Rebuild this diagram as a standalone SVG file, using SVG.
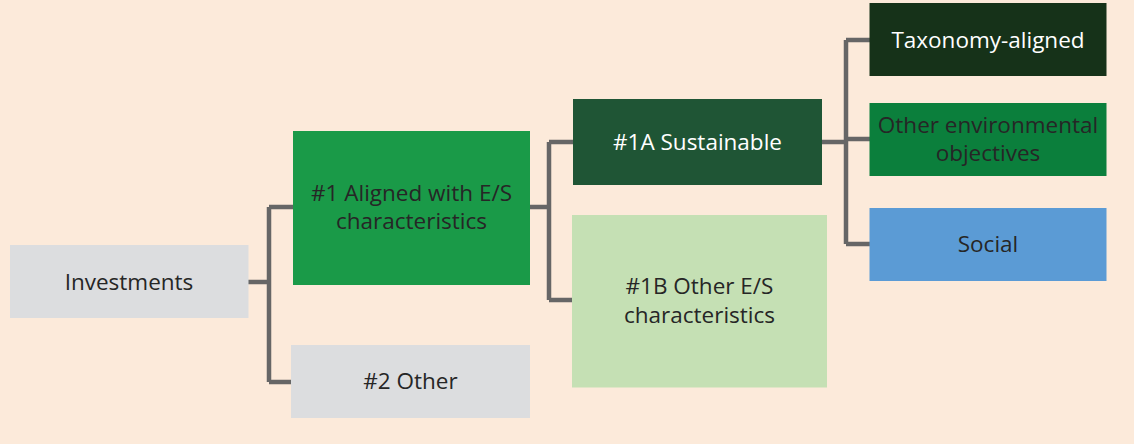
<svg xmlns="http://www.w3.org/2000/svg" width="1134" height="444" viewBox="0 0 1134 444">
<style>
text{font-family:"Open Sans","Noto Sans","Liberation Sans",sans-serif;font-size:22.5px;text-anchor:middle;fill:#262626}
.w{fill:#ffffff}
.c{fill:none;stroke:#666666;stroke-width:4.5;stroke-linejoin:miter}
</style>
<rect width="1134" height="444" fill="#FCEADA"/>
<g id="connectors">
<path class="c" d="M248,282 H269 M269,207 V382 M269,207 H293 M269,382 H291"/>
<path class="c" d="M530,207 H549 M549,142 V300 M549,142 H573 M549,300 H572"/>
<path class="c" d="M822,142 H846 M846,40 V244 M846,40 H870 M846,139 H870 M846,244 H870"/>
</g>
<g id="investments"><rect x="10" y="245" width="238.5" height="73" fill="#DCDDDF"/><text x="129" y="289.5">Investments</text></g>
<g id="aligned"><rect x="293" y="131" width="237" height="154" fill="#1A9A48"/><text x="411.5" y="201">#1 Aligned with E/S</text><text x="411.5" y="228.7">characteristics</text></g>
<g id="other2"><rect x="291" y="345" width="239" height="73" fill="#DCDDDF"/><text x="410.5" y="389">#2 Other</text></g>
<g id="sustainable"><rect x="573" y="99" width="249" height="86" fill="#1F5535"/><text class="w" x="697.5" y="149.5">#1A Sustainable</text></g>
<g id="other-es"><rect x="572" y="215" width="255" height="172.5" fill="#C5E0B4"/><text x="699.5" y="293.5">#1B Other E/S</text><text x="699.5" y="323">characteristics</text></g>
<g id="taxonomy"><rect x="869.5" y="3" width="237" height="73" fill="#163219"/><text class="w" x="988" y="47.5">Taxonomy-aligned</text></g>
<g id="other-env"><rect x="869.5" y="103" width="237" height="73" fill="#0B7F3C"/><text x="988" y="133">Other environmental</text><text x="988" y="161">objectives</text></g>
<g id="social"><rect x="869.5" y="208" width="237" height="73" fill="#5B9BD5"/><text x="988" y="252">Social</text></g>
</svg>
